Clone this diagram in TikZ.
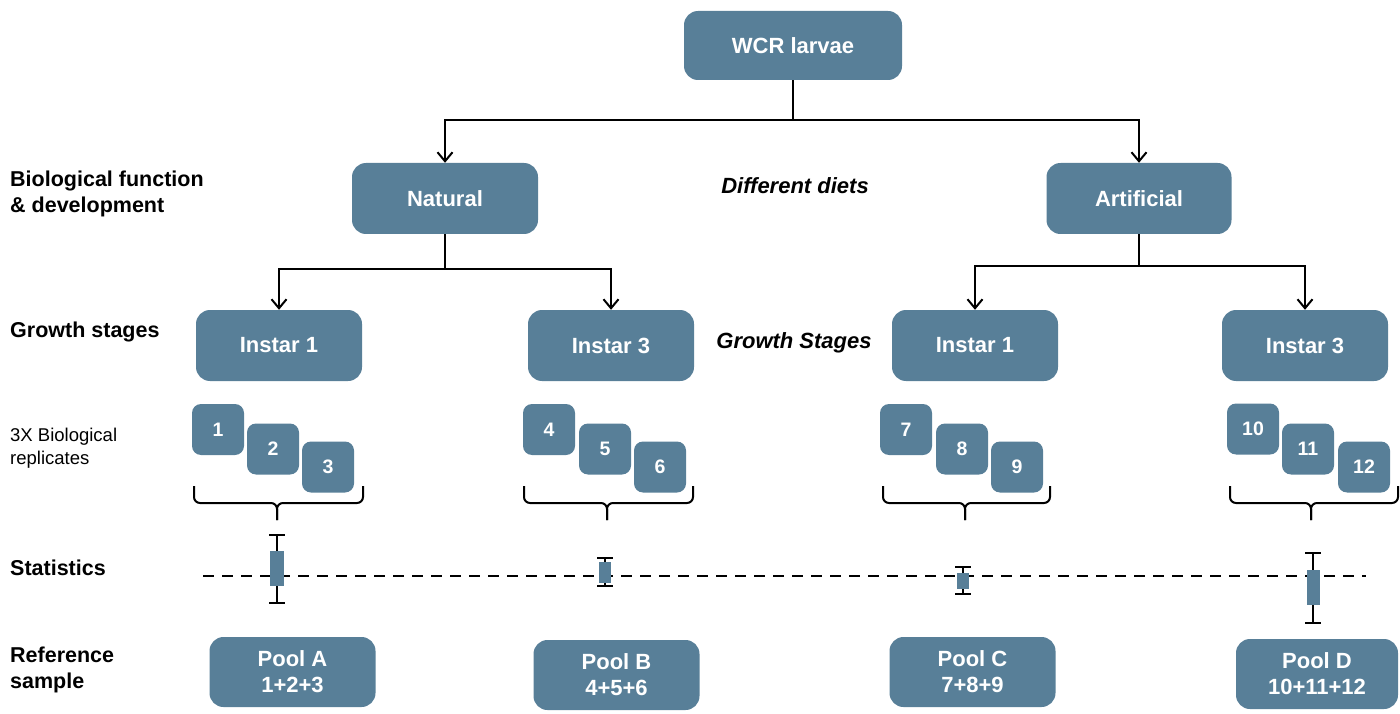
\documentclass[tikz,border=0pt]{standalone}
\usepackage{fontspec}
\setmainfont{Liberation Sans}
\usetikzlibrary{arrows.meta}
\definecolor{boxc}{HTML}{587F98}
\begin{document}
\begin{tikzpicture}[x=1pt,y=-1pt,
  box/.style={fill=boxc, rounded corners=14pt, text=white, inner sep=0pt, align=center,
    font=\fontsize{22}{26}\selectfont\bfseries},
  bigbox/.style={box, minimum width=166pt, minimum height=71pt},
  rep/.style={fill=boxc, rounded corners=9pt, text=white, inner sep=0pt,
    font=\fontsize{19.5}{22}\selectfont\bfseries, minimum width=52pt, minimum height=51pt},
  lbl/.style={inner sep=0pt, anchor=north west, align=left, font=\fontsize{21.5}{26}\selectfont\bfseries},
  small/.style={inner sep=0pt, anchor=north west, align=left, font=\fontsize{18.5}{23}\selectfont},
  mid/.style={inner sep=0pt, font=\fontsize{22}{26}\selectfont\bfseries\itshape},
  conn/.style={line width=2pt, -{Straight Barb[length=9pt,width=15pt,line width=2pt]}},
  brace/.style={line width=2pt, rounded corners=6pt},
  whisk/.style={line width=2pt}
]
\useasboundingbox (0,0) rectangle (1400,714);

% left labels
\node[lbl] (l1) at (10,171) {Biological function\\\& development};
\node[lbl] (l2) at (10,322) {Growth stages};
\node[small] (l3) at (10,428) {3X Biological\\replicates};
\node[lbl] (l4) at (10,560) {Statistics};
\node[lbl] (l5) at (10,647) {Reference\\sample};

% main boxes
\node[box, minimum width=218pt, minimum height=69pt] (wcr) at (793,45.5) {WCR larvae};
\node[box, minimum width=186pt, minimum height=71pt] (nat) at (445,198.5) {Natural};
\node[box, minimum width=185pt, minimum height=71pt] (art) at (1139,198.5) {Artificial};
\node[mid] (dd) at (795,186) {Different diets};
\node[mid] (gs) at (794,343) {Growth Stages};

\node[bigbox] (i1a) at (279,345.5) {Instar 1};
\node[bigbox] (i3a) at (611,345.5) {Instar 3};
\node[bigbox] (i1b) at (975,345.5) {Instar 1};
\node[bigbox] (i3b) at (1305,345.5) {Instar 3};

% connectors
\draw[conn] (wcr.south) -- ++(0,40) -| (nat.north);
\draw[conn] (wcr.south) -- ++(0,40) -| (art.north);
\draw[conn] (nat.south) -- ++(0,35) -| (i1a.north);
\draw[conn] (nat.south) -- ++(0,35) -| (i3a.north);
\draw[conn] (art.south) -- ++(0,32) -| (i1b.north);
\draw[conn] (art.south) -- ++(0,32) -| (i3b.north);

% replicates
\node[rep] (r1) at (218,429.5) {1};
\node[rep] (r2) at (273,449) {2};
\node[rep] (r3) at (328,467) {3};
\node[rep] (r4) at (549,429.5) {4};
\node[rep] (r5) at (605,449) {5};
\node[rep] (r6) at (660,467) {6};
\node[rep] (r7) at (906,429.5) {7};
\node[rep] (r8) at (962,449) {8};
\node[rep] (r9) at (1017,467) {9};
\node[rep] (r10) at (1253,429) {10};
\node[rep] (r11) at (1308,449) {11};
\node[rep] (r12) at (1364,467) {12};

% braces
\foreach \a/\b/\c in {194/363/277, 524/693/607, 883/1050/965, 1230/1398/1311}{
  \draw[brace] (\a,486) -- (\a,503) -- (\c,503) -- (\c,520);
  \draw[brace] (\b,486) -- (\b,503) -- (\c,503) -- (\c,520);
}

% statistics
\draw[line width=2.5pt, dash pattern=on 11pt off 8pt] (203,576) -- (1366,576);
\foreach \x/\t/\bt/\bb/\b/\w in {277/535/551/586/603/14, 605/558/562/583/586/12, 963/567/573/589/594/12, 1313/553/570/605/623/13}{
  \draw[whisk] (\x-8,\t) -- (\x+8,\t);
  \draw[whisk] (\x,\t) -- (\x,\b);
  \draw[whisk] (\x-8,\b) -- (\x+8,\b);
  \fill[boxc] (\x-\w/2,\bt) rectangle (\x+\w/2,\bb);
}

% pools
\node[bigbox, minimum height=70pt] (pa) at (292.5,672) {Pool A\\1+2+3};
\node[bigbox, minimum height=70pt] (pb) at (616.5,675) {Pool B\\4+5+6};
\node[bigbox, minimum height=70pt] (pc) at (972.5,672) {Pool C\\7+8+9};
\node[bigbox, minimum height=70pt, minimum width=162pt] (pd) at (1317,674) {Pool D\\10+11+12};
\end{tikzpicture}
\end{document}
